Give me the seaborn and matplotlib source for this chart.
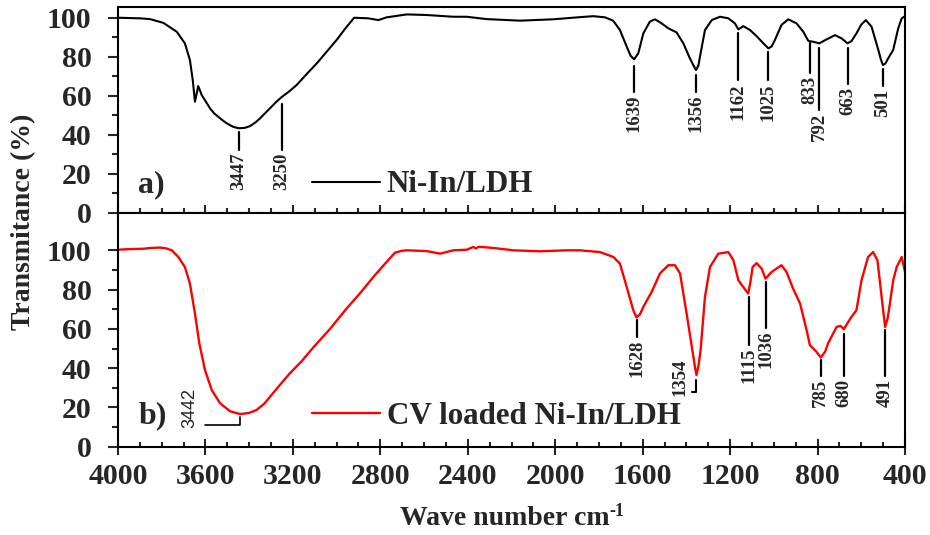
import matplotlib
matplotlib.use("Agg")
import matplotlib.pyplot as plt
from matplotlib.ticker import FixedLocator, MultipleLocator
import numpy as np
import pandas as pd
import seaborn as sns

# FT-IR spectrum of Ni-In/LDH (wavenumber in cm-1, transmittance in %)
ni_wn = [4000, 3900, 3854, 3793, 3731, 3694, 3671, 3658, 3648, 3633, 3617, 3579,
         3560, 3533, 3510, 3488, 3470, 3447, 3420, 3396, 3370, 3350, 3330, 3305,
         3280, 3250, 3220, 3183, 3140, 3091, 3050, 3000, 2960, 2920, 2855, 2809,
         2771, 2679, 2588, 2466, 2405, 2314, 2161, 2009, 1887, 1826, 1772, 1735,
         1704, 1673, 1655, 1639, 1620, 1597, 1567, 1544, 1513, 1483, 1445, 1414,
         1384, 1365, 1356, 1345, 1335, 1315, 1284, 1246, 1208, 1178, 1162, 1140,
         1109, 1079, 1048, 1025, 1010, 995, 965, 934, 896, 865, 842, 820, 792,
         759, 720, 690, 663, 645, 622, 600, 579, 553, 522, 510, 501, 490, 477,
         454, 431, 415, 400]
ni_T = [100.0, 99.7, 99.3, 97.4, 92.8, 86.9, 78.3, 68.0, 57.0, 65.0, 60.4, 53.6,
        51.0, 48.5, 46.5, 45.0, 44.0, 43.4, 43.6, 44.5, 46.5, 48.5, 50.8, 53.6,
        56.5, 59.5, 62.0, 65.5, 70.8, 76.6, 82.0, 88.6, 94.5, 100.0, 99.7, 98.8,
        100.2, 101.7, 101.4, 100.5, 100.5, 99.3, 98.5, 99.2, 100.3, 100.8, 100.2, 98.5,
        93.7, 85.2, 80.5, 78.7, 81.8, 92.0, 98.0, 99.2, 97.1, 94.6, 92.5, 86.9,
        79.2, 75.0, 73.2, 75.5, 81.8, 93.7, 98.8, 100.5, 99.7, 97.1, 94.0, 95.7,
        93.7, 90.6, 86.9, 84.3, 85.3, 88.6, 96.3, 99.2, 97.1, 92.8, 88.1, 87.7, 86.9,
        88.9, 91.1, 89.4, 86.9, 88.0, 92.0, 96.5, 98.8, 95.4, 83.5, 78.5, 75.8, 76.5, 79.2,
        83.5, 94.6, 99.7, 100.8]

# FT-IR spectrum of CV loaded Ni-In/LDH
cv_wn = [4000, 3950, 3884, 3850, 3808, 3780, 3754, 3724, 3694, 3671, 3648, 3628,
         3602, 3571, 3533, 3488, 3442, 3400, 3366, 3330, 3305, 3259, 3213, 3160,
         3107, 3030, 2954, 2890, 2832, 2780, 2733, 2700, 2679, 2588, 2527, 2466,
         2405, 2375, 2362, 2350, 2283, 2192, 2070, 1950, 1887, 1795, 1734, 1704,
         1673, 1643, 1628, 1612, 1597, 1559, 1521, 1483, 1452, 1429, 1399, 1368,
         1360, 1354, 1345, 1335, 1315, 1292, 1254, 1208, 1185, 1162, 1140, 1117,
         1107, 1097, 1079, 1056, 1038, 1010, 965, 942, 912, 880, 850, 835, 805,
         785, 765, 752, 713, 695, 680, 660, 645, 622, 599, 569, 546, 526, 507,
         491, 480, 469, 454, 438, 415, 400]
cv_T = [100.3, 100.6, 100.8, 101.2, 101.4, 101.0, 100.0, 96.6, 91.5, 83.1, 67.8, 52.6,
        39.0, 28.8, 22.1, 18.1, 16.6, 17.2, 18.7, 22.0, 25.4, 31.5, 37.5, 43.5,
        50.5, 60.0, 70.4, 78.5, 86.4, 93.0, 98.8, 99.8, 100.0, 99.6, 98.3, 100.0,
        100.3, 101.7, 101.0, 101.8, 101.2, 100.0, 99.5, 100.0, 100.0, 99.1, 96.6, 93.2,
        81.3, 69.5, 65.8, 67.5, 71.2, 78.8, 88.2, 92.4, 92.4, 88.2, 67.8, 45.8,
        40.0, 36.5, 41.0, 49.2, 76.3, 91.5, 98.3, 99.1, 94.9, 84.7, 81.3, 78.0,
        84.0, 91.5, 93.5, 90.7, 85.6, 89.0, 92.4, 89.0, 80.5, 72.9, 59.3, 51.7, 48.3,
        45.4, 48.5, 52.6, 61.0, 61.5, 59.8, 63.5, 66.1, 69.5, 84.7, 96.6, 99.1, 94.9, 76.3,
        61.0, 65.0, 72.9, 84.7, 91.5, 96.6, 89.0]

x_ticks = [4000, 3600, 3200, 2800, 2400, 2000, 1600, 1200, 800, 400]
y_ticks = [0, 20, 40, 60, 80, 100]

# peak labels: (label, line top, line bottom)
ni_peaks = [(3447, 41.5, 32.5), (3250, 55.7, 32.5), (1639, 75.5, 62.0),
            (1356, 70.5, 62.0), (1162, 92.0, 68.0), (1025, 82.6, 68.0),
            (833, 86.9, 71.5), (792, 84.3, 53.0), (663, 84.3, 66.0), (501, 74.0, 65.0)]
cv_peaks = [(1628, 64.4, 56.0), (1115, 76.3, 52.0), (1036, 84.0, 60.5),
            (785, 44.0, 36.0), (680, 57.6, 36.0), (491, 59.3, 36.0)]

sns.set_style("ticks")
plt.rcParams["font.family"] = ["Liberation Serif", "DejaVu Serif"]
plt.rcParams["font.weight"] = "bold"

fig = plt.figure(figsize=(9.3, 5.35), dpi=100)
ax1 = fig.add_axes([0.12688, 0.60187, 0.84624, 0.38505])
ax2 = fig.add_axes([0.12688, 0.16505, 0.84624, 0.43682])

ni_df = pd.DataFrame({"wn": ni_wn, "T": ni_T})
cv_df = pd.DataFrame({"wn": cv_wn, "T": cv_T})

sns.lineplot(data=ni_df, x="wn", y="T", ax=ax1, color="black", lw=1.5,
             estimator=None, label="Ni-In/LDH")
sns.lineplot(data=cv_df, x="wn", y="T", ax=ax2, color="#ff0000", lw=1.7,
             estimator=None, label="CV loaded Ni-In/LDH")

for ax, top in ((ax1, 105.5), (ax2, 119)):
    ax.set_xlim(4000, 400)
    ax.set_ylim(0, top)
    ax.set_xlabel("")
    ax.set_ylabel("")
    ax.xaxis.set_major_locator(FixedLocator(x_ticks))
    ax.xaxis.set_minor_locator(MultipleLocator(100))
    ax.yaxis.set_major_locator(FixedLocator(y_ticks))
    ax.yaxis.set_minor_locator(FixedLocator([10, 30, 50, 70, 90]))
    ax.tick_params(axis="x", which="major", direction="inout", length=12, width=1.5,
                   labelsize=21.5, pad=6)
    ax.tick_params(axis="x", which="minor", direction="in", length=3.8, width=1.5)
    ax.tick_params(axis="y", which="major", direction="out", length=7, width=1.5,
                   labelsize=21.5, pad=12)
    ax.tick_params(axis="y", which="minor", direction="out", length=4.5, width=1.5)
    for s in ax.spines.values():
        s.set_visible(True)
        s.set_linewidth(1.5)
        s.set_color("black")
    for lab in ax.get_xticklabels() + ax.get_yticklabels():
        lab.set_fontweight("bold")

ax1.tick_params(axis="x", labelbottom=False)

legend_prop = {"family": "Liberation Serif", "weight": "bold", "size": 22.3}
ax1.legend(loc="center left", bbox_to_anchor=(0.246, 0.136), frameon=False,
           prop=legend_prop, handlelength=2.2, handletextpad=0.23,
           borderpad=0, borderaxespad=0)
ax2.legend(loc="center left", bbox_to_anchor=(0.246, 0.128), frameon=False,
           prop=legend_prop, handlelength=2.2, handletextpad=0.23,
           borderpad=0, borderaxespad=0)

ax1.text(3910, 10.5, "a)", fontsize=23, fontweight="bold", ha="left", va="baseline")
ax2.text(3905, 11.9, "b)", fontsize=23, fontweight="bold", ha="left", va="baseline")

lbl = dict(fontsize=13.5, fontweight="bold", rotation=90, ha="center", va="top")
for wn, y0, y1 in ni_peaks:
    ax1.plot([wn, wn], [y0, y1], color="black", lw=1.6)
    ax1.text(wn, y1 - 1.5, str(wn), **lbl)
for wn, y0, y1 in cv_peaks:
    ax2.plot([wn, wn], [y0, y1], color="black", lw=1.6)
    ax2.text(wn, y1 - 1.5, str(wn), **lbl)

# bracketed labels
ax2.plot([1375, 1354, 1354], [27.7, 27.7, 34.0], color="black", lw=1.5)
ax2.text(1431, 45.1, "1354", **lbl)
ax2.plot([3602, 3442, 3442], [11.0, 11.0, 15.0], color="black", lw=1.2)
ax2.text(3671, 29.8, "3442", fontsize=13, fontweight="normal",
         family="Liberation Sans", rotation=90, ha="center", va="top")

fig.text(0.0253, 0.586, "Transmitance (%)", rotation=90, fontsize=20,
         fontweight="bold", ha="center", va="center")
xl = fig.text(0.430, 0.030, "Wave number cm", fontsize=20, fontweight="bold",
              ha="left", va="center")
fig.canvas.draw()
bb = xl.get_window_extent()
fig.text(bb.x1 / fig.bbox.width, 0.043, "-1", fontsize=13, fontweight="bold",
         ha="left", va="center")

fig.savefig("out.png", dpi=100)
